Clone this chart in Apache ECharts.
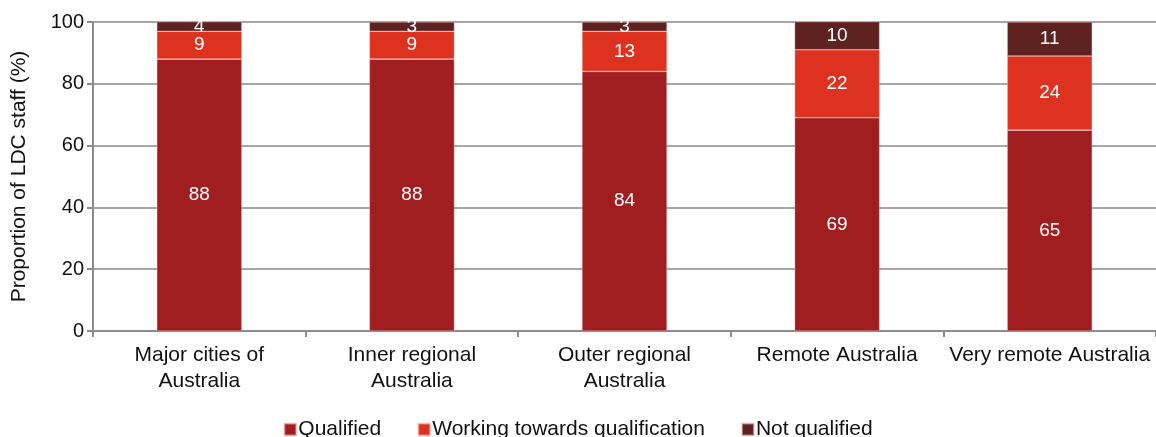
<!DOCTYPE html>
<html>
<head>
<meta charset="utf-8">
<script src="https://cdn.jsdelivr.net/npm/echarts@6/dist/echarts.min.js"></script>
<style>
  html, body { margin: 0; padding: 0; background: #fff; overflow: hidden; }
  #chart { width: 1156px; height: 437px; }
</style>
</head>
<body>
<div id="chart"></div>
<script>
// Remoteness areas along the x axis
const categories = [
  'Major cities of\nAustralia',
  'Inner regional\nAustralia',
  'Outer regional\nAustralia',
  'Remote Australia',
  'Very remote Australia'
];

// Share of LDC staff (%) by qualification status
const qualified = [88, 88, 84, 69, 65];
const workingTowards = [9, 9, 13, 22, 24];
const notQualified = [4, 3, 3, 10, 11];

const yTicks = [0, 20, 40, 60, 80, 100];

const FONT = '"Liberation Sans", Arial, sans-serif';
const colors = ['#A01E20', '#DD3220', '#5E2320'];

function seriesOf(name, data, color) {
  return {
    name: name,
    type: 'bar',
    stack: 'total',
    data: data,
    barWidth: '40%',
    itemStyle: { color: color, borderColor: 'rgba(255,200,200,0.55)', borderWidth: 0.6 },
    label: {
      show: true,
      position: 'inside',
      color: '#ffffff',
      fontFamily: FONT,
      fontSize: 19
    }
  };
}

const chart = echarts.init(document.getElementById('chart'), null, { renderer: 'canvas' });
chart.setOption({
  animation: false,
  color: colors,
  grid: { left: 93, right: 0, top: 22, bottom: 106, containLabel: false, outerBoundsMode: 'none' },
  legend: {
    top: 414,
    left: 'center',
    itemWidth: 12,
    itemHeight: 12,
    itemGap: 36,
    icon: 'rect',
    textStyle: { fontFamily: FONT, fontSize: 21, color: '#111', padding: [0, 0, 0, -3] },
    data: ['Qualified', 'Working towards qualification', 'Not qualified']
  },
  xAxis: {
    type: 'category',
    data: categories,
    axisLine: { lineStyle: { color: '#8c8c8c', width: 2 } },
    axisTick: { show: true, alignWithLabel: false, length: 6, lineStyle: { color: '#8c8c8c', width: 2 } },
    axisLabel: {
      fontFamily: FONT,
      fontSize: 21,
      color: '#111',
      lineHeight: 26,
      margin: 11,
      interval: 0
    }
  },
  yAxis: {
    type: 'value',
    min: 0,
    max: 100,
    interval: 20,
    name: 'Proportion of LDC staff (%)',
    nameLocation: 'middle',
    nameGap: 63,
    nameRotate: 90,
    nameTextStyle: { fontFamily: FONT, fontSize: 21, color: '#111' },
    axisLine: { show: true, lineStyle: { color: '#8c8c8c', width: 2 } },
    axisTick: { show: true, length: 6, lineStyle: { color: '#8c8c8c', width: 2 } },
    splitLine: { lineStyle: { color: '#a6a6a6', width: 2 } },
    axisLabel: {
      fontFamily: FONT,
      fontSize: 20,
      color: '#111',
      margin: 9,
      formatter: function (v) { return yTicks.indexOf(v) >= 0 ? String(v) : ''; }
    }
  },
  series: [
    seriesOf('Qualified', qualified, colors[0]),
    seriesOf('Working towards qualification', workingTowards, colors[1]),
    seriesOf('Not qualified', notQualified, colors[2])
  ]
});
</script>
</body>
</html>
